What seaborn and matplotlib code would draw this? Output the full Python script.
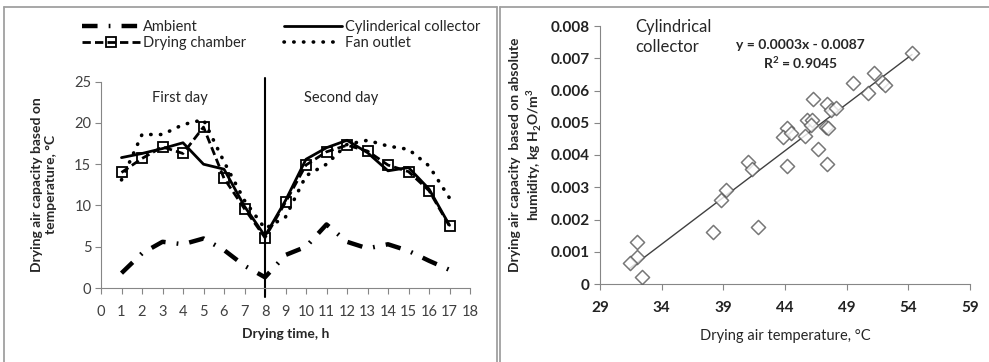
import numpy as np
import pandas as pd
import matplotlib
matplotlib.use("Agg")
import matplotlib.pyplot as plt
from matplotlib.lines import Line2D
import seaborn as sns

# ---------------- data ----------------
hours = list(range(1, 18))
ambient = [1.8, 4.2, 5.6, 5.3, 6.0, 4.6, 2.7, 1.3, 4.0, 5.0, 7.7, 5.6, 4.8, 5.3, 4.5, 3.3, 2.2]
cylindrical = [15.8, 16.3, 16.9, 17.6, 15.0, 14.4, 9.9, 6.3, 10.6, 15.6, 17.0, 17.9, 16.4, 14.2, 14.6, 12.0, 7.6]
chamber = [14.0, 15.7, 17.1, 16.3, 19.5, 13.3, 9.6, 6.1, 10.4, 14.9, 16.5, 17.3, 16.6, 14.9, 14.1, 11.8, 7.5]
fan = [13.1, 18.6, 18.6, 19.8, 20.4, 15.3, 10.6, 7.2, 8.6, 13.6, 15.0, 17.4, 17.9, 17.2, 16.8, 14.8, 10.9]
series_names = ["Ambient", "Cylinderical collector", "Drying chamber", "Fan outlet"]

temps = [54.3, 51.2, 51.9, 52.1, 49.5, 50.7, 46.3, 47.4, 47.7, 48.1, 45.8, 46.2, 46.1,
         44.2, 43.8, 44.5, 45.6, 47.3, 47.5, 46.7, 47.4, 44.2, 41.0, 41.3, 39.2, 38.8,
         38.2, 41.8, 32.0, 32.0, 31.4, 32.4]
humid = [0.00717, 0.00655, 0.00627, 0.00617, 0.00622, 0.00591, 0.00574, 0.00558, 0.00540,
         0.00545, 0.00508, 0.00508, 0.00493, 0.00483, 0.00457, 0.00467, 0.00459, 0.00488,
         0.00485, 0.00420, 0.00372, 0.00367, 0.00377, 0.00356, 0.00291, 0.00260, 0.00160,
         0.00176, 0.00129, 0.00085, 0.00064, 0.00021]

left_xticks = list(range(0, 19))
left_yticks = [0, 5, 10, 15, 20, 25]
right_xticks = [29, 34, 39, 44, 49, 54, 59]
right_yticks = [0, 0.001, 0.002, 0.003, 0.004, 0.005, 0.006, 0.007, 0.008]
right_yticklabels = ["0", "0.001", "0.002", "0.003", "0.004", "0.005", "0.006", "0.007", "0.008"]

# ---------------- style ----------------
sns.set_style("white")
plt.rcParams['font.family'] = ['Lato', 'DejaVu Sans']
plt.rcParams['mathtext.fontset'] = 'custom'
plt.rcParams['mathtext.rm'] = 'Lato'
plt.rcParams['mathtext.bf'] = 'Lato:bold'

W, H = 989, 362
fig = plt.figure(figsize=(W / 100, H / 100), dpi=100)

spine_c = "#868686"
tick_c = "#404040"

def fx(px):
    return px / W

def fy(py):
    return 1 - py / H

# panel frames
frame_c = "#a0a0a0"
for (x0, y0, x1, y1) in [(4, 7, 4, H), (4, 7, 497, 7), (497, 7, 497, H),
                         (500, 7, 500, H), (500, 7, W, 7)]:
    fig.add_artist(Line2D([fx(x0), fx(x1)], [fy(y0), fy(y1)], color=frame_c, lw=1.3,
                          transform=fig.transFigure))

# ---------------- left chart ----------------
ax1 = fig.add_axes([fx(101), fy(288), fx(470) - fx(101), fy(81.7) - fy(288)])
df = pd.DataFrame({"hour": hours, "Ambient": ambient, "Cylinderical collector": cylindrical,
                   "Drying chamber": chamber, "Fan outlet": fan})

sns.lineplot(data=df, x="hour", y="Ambient", ax=ax1, color="black", lw=3.2,
             label="Ambient")
ax1.lines[-1].set_linestyle((0, (3.5, 2.5, 0.4, 2.5)))
sns.lineplot(data=df, x="hour", y="Cylinderical collector", ax=ax1, color="black", lw=2.0,
             label="Cylinderical collector")
sns.lineplot(data=df, x="hour", y="Drying chamber", ax=ax1, color="black", lw=2.0,
             marker="s", markersize=6.5, markerfacecolor="none", markeredgecolor="black",
             markeredgewidth=1.3, label="Drying chamber")
ax1.lines[-1].set_linestyle((0, (3, 1.5)))
sns.lineplot(data=df, x="hour", y="Fan outlet", ax=ax1, color="black", lw=2.6,
             label="Fan outlet")
ax1.lines[-1].set_linestyle((0, (0.1, 2.6)))
ax1.lines[-1].set_dash_capstyle("round")

ax1.axvline(8, ymin=-0.045, ymax=1.02, color="black", lw=1.5, clip_on=False)
ax1.text(3.85, 23, "First day", ha="center", va="center", fontsize=10.5)
ax1.text(11.7, 23, "Second day", ha="center", va="center", fontsize=10.5)

ax1.set_xlim(0, 18)
ax1.set_ylim(0, 25)
ax1.set_xticks(left_xticks)
ax1.set_yticks(left_yticks)
ax1.tick_params(axis="both", direction="out", length=4, width=0.8, color=spine_c,
                labelsize=10.5, labelcolor=tick_c, bottom=True, left=True, pad=3)
ax1.tick_params(axis="x", pad=8)
for s in ["top", "right"]:
    ax1.spines[s].set_visible(False)
for s in ["left", "bottom"]:
    ax1.spines[s].set_color(spine_c)
    ax1.spines[s].set_linewidth(0.8)
ax1.set_xlabel("Drying time, h", fontsize=10, fontweight="bold", labelpad=7)
ax1.set_ylabel("Drying air capacity based on\ntemperature, °C", fontsize=10,
               fontweight="bold", labelpad=12)

handles, labels = ax1.get_legend_handles_labels()
ax1.get_legend().remove()
order = [0, 2, 1, 3]
leg = fig.legend([handles[i] for i in order], [labels[i] for i in order], ncol=2,
                 loc="upper left", bbox_to_anchor=(fx(76), fy(14)), frameon=False,
                 fontsize=10.5, handlelength=4.0, handletextpad=0.2, columnspacing=2.6,
                 labelspacing=0.15, borderaxespad=0)

# ---------------- right chart ----------------
ax2 = fig.add_axes([fx(600), fy(284), fx(970) - fx(600), fy(26) - fy(284)])
sdf = pd.DataFrame({"temp": temps, "hum": humid})
sns.regplot(data=sdf, x="temp", y="hum", ax=ax2, ci=None, marker="D",
            scatter_kws=dict(s=52, facecolors="white", edgecolors="#555555", linewidths=1.1,
                             zorder=3),
            line_kws=dict(color="#404040", lw=1.0, zorder=2))
ax2.set_xlim(29, 59)
ax2.set_ylim(0, 0.008)
ax2.set_xticks(right_xticks)
ax2.set_yticks(right_yticks)
ax2.set_yticklabels(right_yticklabels)
ax2.tick_params(axis="both", direction="out", length=4, width=0.8, color=spine_c,
                labelsize=11, labelcolor="#222222", bottom=True, left=True)
ax2.tick_params(axis="x", pad=8)
for lab in ax2.get_xticklabels() + ax2.get_yticklabels():
    lab.set_fontweight("bold")
for s in ["top", "right"]:
    ax2.spines[s].set_visible(False)
for s in ["left", "bottom"]:
    ax2.spines[s].set_color(spine_c)
    ax2.spines[s].set_linewidth(0.8)
ax2.set_xlabel("Drying air temperature, °C", fontsize=10.5, labelpad=10)
ax2.set_ylabel("Drying air capacity  based on absolute\nhumidity, kg H$_\\mathbf{2}$O/m$^\\mathbf{3}$",
               fontsize=10, fontweight="bold", labelpad=5)

ax2.text(fx(635), fy(37), "Cylindrical\ncollector", transform=fig.transFigure,
         fontsize=12, ha="left", va="center", linespacing=1.3)
ax2.text(fx(800), fy(45), "y = 0.0003x - 0.0087", transform=fig.transFigure,
         fontsize=10, fontweight="bold", ha="center", va="center")
ax2.text(fx(800), fy(63), "R$^\\mathbf{2}$ = 0.9045", transform=fig.transFigure,
         fontsize=10, fontweight="bold", ha="center", va="center")

fig.savefig("out.png", dpi=100)
